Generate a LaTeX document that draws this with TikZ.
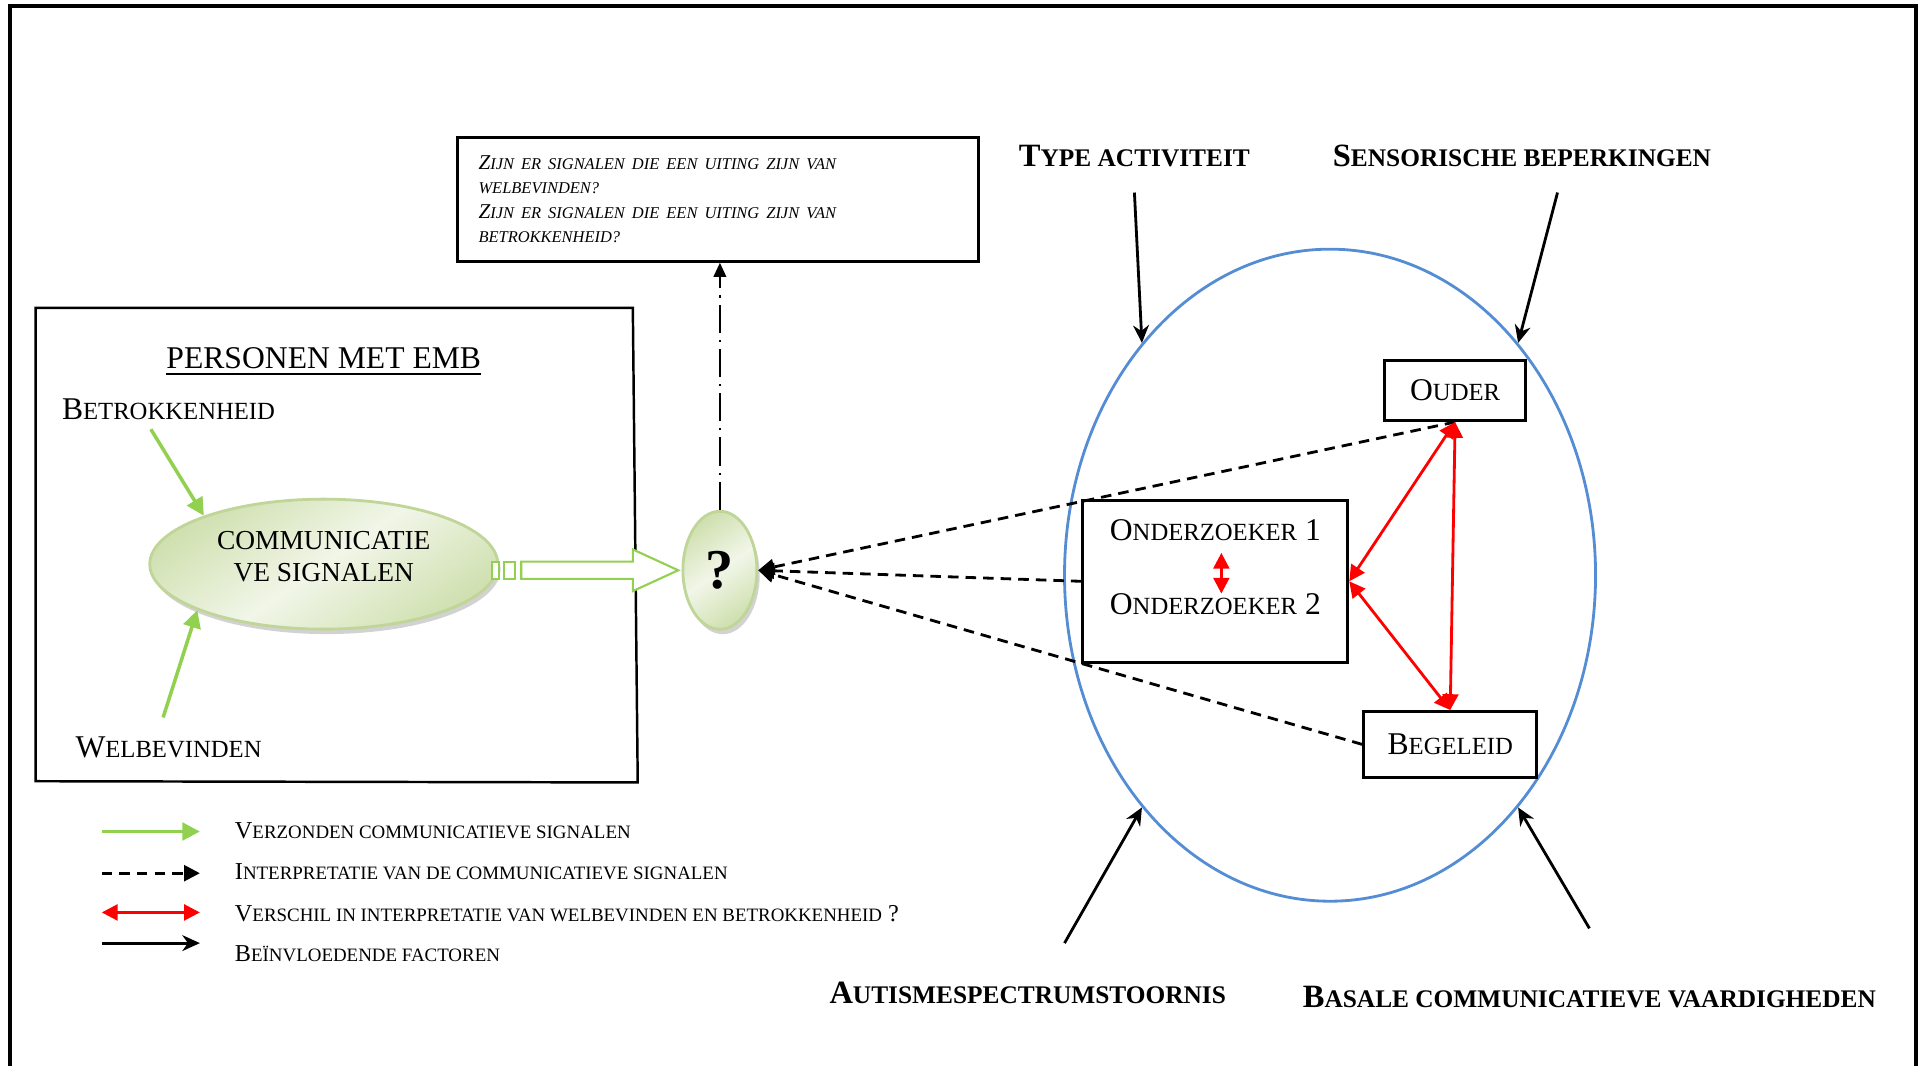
\documentclass[tikz,border=0pt]{standalone}
\usepackage{fontspec}
\setmainfont{Liberation Serif}
\newfontfamily\lowcap{Liberation Serif}[Scale=0.78]
\usetikzlibrary{arrows.meta,shapes.geometric,shadows}
\definecolor{sendgreen}{RGB}{146,208,80}
\definecolor{embpale}{RGB}{241,246,232}
\definecolor{embmid}{RGB}{208,224,176}
\definecolor{embedge}{RGB}{192,213,152}
\definecolor{rangeblue}{RGB}{84,141,212}
\newcommand\smc[2]{#1{\lowcap #2}}
\tikzset{
  box/.style={draw, line width=0.8pt},
  label9/.style={font=\fontsize{9}{10}\selectfont},
  factor/.style={font=\bfseries\fontsize{9.25}{10}\selectfont},
  legtext/.style={anchor=west, inner xsep=0pt, font=\fontsize{6.9}{8}\selectfont},
  signal/.style={ellipse, draw=embedge, line width=0.8pt, inner sep=0pt,
    top color=embmid, bottom color=embmid, middle color=embpale, shading angle=35,
    drop shadow={shadow xshift=0.8pt, shadow yshift=-1.4pt, fill=black!35}},
  sendarrow/.style={draw=sendgreen, line width=1pt, -{Triangle[length=5pt,width=5pt]}},
  interparrow/.style={line width=0.8pt, dash pattern=on 3pt off 2pt, -{Triangle[length=4.5pt,width=4.5pt]}},
  diffarrow/.style={red, line width=0.8pt, {Triangle[length=4.5pt,width=4.5pt]}-{Triangle[length=4.5pt,width=4.5pt]}},
  factarrow/.style={line width=0.8pt, -{Stealth[length=5pt,width=4.5pt,inset=1.6pt]}}
}
\begin{document}
\begin{tikzpicture}[x=0.12264mm,y=-0.12264mm]
\useasboundingbox (0,0) rectangle (1568,869);
\draw[line width=1.1pt] (8,880) -- (8,5) -- (1562,5) -- (1562,880);

\node[box, text width=47.9mm, inner xsep=2.1mm, minimum height=12.4mm, align=left,
  font=\itshape\fontsize{6}{7}\selectfont] (quest) at (585.5,162.5)
  {\smc{Z}{IJN ER SIGNALEN DIE EEN UITING ZIJN VAN}\\ {\lowcap WELBEVINDEN?}\\
   \smc{Z}{IJN ER SIGNALEN DIE EEN UITING ZIJN VAN}\\ {\lowcap BETROKKENHEID?}};

% personen met emb
\draw[line width=0.7pt] (29,251) -- (516,251) -- (520,638) -- (29,637) -- cycle;
\node[label9] (embtitle) at (264,295) {\underline{PERSONEN MET EMB}};
\node[label9, anchor=west, inner xsep=0pt] (betr) at (50,334) {\smc{B}{ETROKKENHEID}};
\node[label9, anchor=west, inner xsep=0pt] (welb) at (61,609) {\smc{W}{ELBEVINDEN}};
\node[signal, minimum width=34.8mm, minimum height=13mm] (comm) at (264,460) {};
\node[align=center, font=\fontsize{7.8}{9}\selectfont] (commtext) at (264,454) {COMMUNICATIE\\VE SIGNALEN};
\coordinate (betrfoot) at (123,350);
\coordinate (welbfoot) at (133,585);
\draw[sendarrow] (betrfoot) -- (comm.158);
\draw[sendarrow] (welbfoot) -- (comm.200);

\draw[sendgreen, line width=0.6pt, fill=white] (401,458) rectangle (407,472) (411,458) rectangle (420,472);
\draw[sendgreen, line width=0.6pt, fill=white] (425,458) -- (516,458) -- (516,448) -- (553,465)
  -- (516,482) -- (516,472) -- (425,472) -- cycle;

\node[signal, minimum width=7.4mm, minimum height=11.8mm,
  font=\bfseries\fontsize{16}{16}\selectfont] (q) at (587,465) {?};
\draw[line width=0.7pt, dash pattern=on 8pt off 2pt on 0.6pt off 2pt,
  -{Triangle[length=4pt,width=3.5pt]}] (q.north) -- (q.north |- quest.south);

% omgeving
\node[ellipse, draw=rangeblue, line width=0.8pt, inner sep=0pt,
  minimum width=53.1mm, minimum height=65.2mm] (range) at (1084.5,469) {};
\node[box, label9, minimum width=14.1mm, minimum height=6mm] (ouder) at (1186.5,318.5) {\smc{O}{UDER}};
\node[box, minimum width=26.5mm, minimum height=16.2mm] (ondbox) at (991,474) {};
\node[label9] (ond1) at (991,432) {\smc{O}{NDERZOEKER} 1};
\node[label9] (ond2) at (991,493) {\smc{O}{NDERZOEKER} 2};
\node[box, label9, minimum width=17.3mm, minimum height=6.6mm] (begel) at (1182.5,607) {\smc{B}{EGELEID}};

\draw[interparrow] (ouder.south) -- (q.east);
\draw[interparrow] (ondbox.west) -- (q.east);
\draw[interparrow] (begel.west) -- (q.east);

\draw[diffarrow] (ouder.south) -- (ondbox.east);
\draw[diffarrow] (ouder.south) -- (begel.north);
\draw[diffarrow] (ondbox.east) -- (begel.north);
\draw[diffarrow] ([xshift=0.6mm]ond1.south) -- ([xshift=0.6mm,yshift=-1.2mm]ond2.north);

\node[factor] (typeact) at (925,127) {\smc{T}{YPE ACTIVITEIT}};
\coordinate (typefoot) at (925,157);
\draw[factarrow] (typefoot) -- (range.129);
\node[factor] (senso) at (1241,127) {\smc{S}{ENSORISCHE BEPERKINGEN}};
\coordinate (sensofoot) at (1270,157);
\draw[factarrow] (sensofoot) -- (range.51);
\node[factor] (autism) at (838,810) {\smc{A}{UTISMESPECTRUMSTOORNIS}};
\coordinate (autismfoot) at (868,769);
\draw[factarrow] (autismfoot) -- (range.231);
\node[factor] (basale) at (1296,813) {\smc{B}{ASALE COMMUNICATIEVE VAARDIGHEDEN}};
\coordinate (basalefoot) at (1296,757);
\draw[factarrow] (basalefoot) -- (range.309);

% legenda
\foreach \i/\y/\sty in {1/678/sendarrow, 2/712/interparrow, 3/744/diffarrow, 4/769/factarrow}{
  \coordinate (leg\i a) at (83,\y);
  \coordinate (leg\i b) at (163,\y);
  \draw[\sty] (leg\i a) -- (leg\i b);
}
\node[legtext] (legt1) at (191,677) {\smc{V}{ERZONDEN COMMUNICATIEVE SIGNALEN}};
\node[legtext] (legt2) at (191,711) {\smc{I}{NTERPRETATIE VAN DE COMMUNICATIEVE SIGNALEN}};
\node[legtext] (legt3) at (191,745) {\smc{V}{ERSCHIL IN INTERPRETATIE VAN WELBEVINDEN EN BETROKKENHEID} ?};
\node[legtext] (legt4) at (191,778) {\smc{B}{EÏNVLOEDENDE FACTOREN}};
\end{tikzpicture}
\end{document}
